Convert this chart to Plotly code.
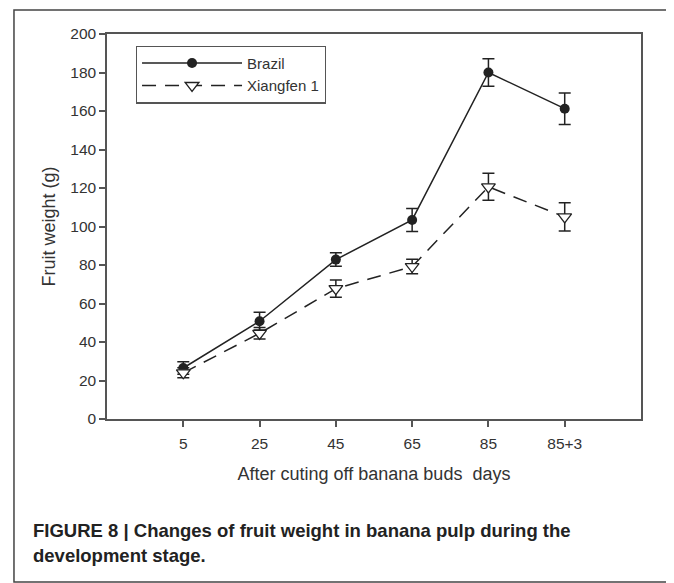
import plotly.graph_objects as go

days = ["5", "25", "45", "65", "85", "85+3"]
brazil = [26.5, 50.8, 82.8, 103.4, 180.0, 161.2]
brazil_err = [3.3, 4.6, 3.5, 6.0, 7.2, 8.2]
xiangfen = [24.0, 44.5, 67.7, 79.2, 120.6, 105.0]
xiangfen_err = [2.6, 3.0, 4.5, 3.8, 7.0, 7.3]

caption_lines = [
    "FIGURE 8 | Changes of fruit weight in banana pulp during the",
    "development stage.",
]

INK = "#222222"
AXIS = "#555555"
TEXT = "#333333"
FONT = "Liberation Sans, Arial, sans-serif"

fig = go.Figure()
fig.add_trace(go.Scatter(
    x=days, y=brazil, name="Brazil", mode="lines+markers",
    line=dict(color=INK, width=1.5),
    marker=dict(symbol="circle", size=10, color=INK),
    error_y=dict(type="data", array=brazil_err, color=INK, thickness=1.5, width=6),
))
fig.add_trace(go.Scatter(
    x=days, y=xiangfen, name="Xiangfen 1", mode="lines+markers",
    line=dict(color=INK, width=1.5, dash="14px,9px"),
    marker=dict(symbol="triangle-down", size=12, color="white", line=dict(color=INK, width=1.3)),
    error_y=dict(type="data", array=xiangfen_err, color=INK, thickness=1.5, width=6),
))

# page body has an 8px margin, so the figure is 8px smaller than the window
fig.update_layout(
    width=666, height=575,
    margin=dict(l=99, r=33, t=26, b=164),
    paper_bgcolor="white", plot_bgcolor="white",
    font=dict(family=FONT, color=TEXT),
    showlegend=True,
    legend=dict(
        x=0.054, y=0.97, xanchor="left", yanchor="top",
        bordercolor=AXIS, borderwidth=1.2, bgcolor="white",
        font=dict(size=15, color=TEXT), itemwidth=100,
        tracegroupgap=0,
    ),
)
fig.update_xaxes(
    type="category", range=[-1, 6],
    showline=True, linecolor=AXIS, linewidth=1.5, mirror=True,
    ticks="outside", ticklen=6, tickcolor=AXIS, tickwidth=1.5,
    ticklabelstandoff=4,
    showgrid=False, zeroline=False,
    tickfont=dict(size=15.5, color=TEXT),
    title=dict(text="After cuting off banana buds  days", font=dict(size=18, color=TEXT), standoff=16),
)
fig.update_yaxes(
    range=[0, 200], dtick=20,
    showline=True, linecolor=AXIS, linewidth=1.5, mirror=True,
    ticks="outside", ticklen=6, tickcolor=AXIS, tickwidth=1.5,
    showgrid=False, zeroline=False,
    tickfont=dict(size=15.5, color=TEXT),
    title=dict(text="Fruit weight (g)", font=dict(size=18, color=TEXT), standoff=10),
)

# figure frame and caption
fig.add_shape(type="rect", xref="paper", yref="paper",
              x0=-0.1742, x1=1.0543, y0=-0.4234, y1=1.0623,
              line=dict(color="#444444", width=1.5))
for line_text, ypos in zip(caption_lines, [-0.2909, -0.3558]):
    fig.add_annotation(
        xref="paper", yref="paper", x=-0.1423, y=ypos, xanchor="left", yanchor="middle",
        align="left", showarrow=False, text=f"<b>{line_text}</b>",
        font=dict(size=18.5, color=INK, family=FONT),
    )

fig.write_html("out.html")
